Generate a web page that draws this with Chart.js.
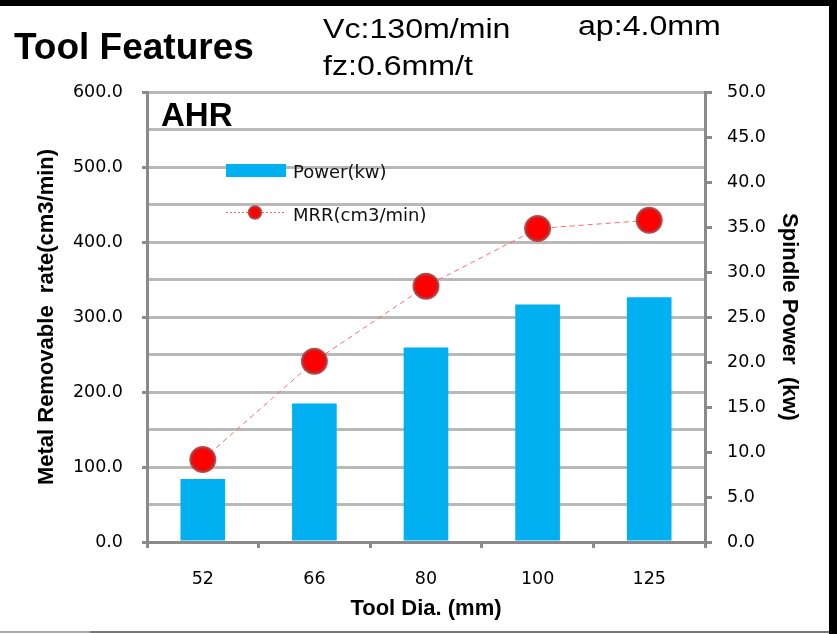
<!DOCTYPE html>
<html>
<head>
<meta charset="utf-8">
<script src="https://cdn.jsdelivr.net/npm/chart.js@4.4.1/dist/chart.umd.min.js"></script>
<style>
  html, body { margin: 0; padding: 0; background: #fff; }
  #wrap { position: relative; width: 837px; height: 634px; overflow: hidden; background: #fff; }
  #chart { position: absolute; left: 0; top: 0; }
  .txt { position: absolute; white-space: nowrap; line-height: 1; color: #000; font-family: "Liberation Sans", Arial, sans-serif; }
  .head { font-size: 27px; transform: scaleX(1.19); transform-origin: 0 0; }
  .bar { position: absolute; }
</style>
</head>
<body>
<div id="wrap">
  <canvas id="chart" width="837" height="634"></canvas>
  <div class="txt" style="left:14px; top:28px; font-size:37px; font-weight:bold;">Tool Features</div>
  <div class="txt head" style="left:323px; top:15.5px;">Vc:130m/min</div>
  <div class="txt head" style="left:323px; top:53px;">fz:0.6mm/t</div>
  <div class="txt head" style="left:578px; top:13px;">ap:4.0mm</div>
  <div class="txt" style="left:161px; top:98px; font-size:33px; font-weight:bold;">AHR</div>
  <div class="bar" style="left:0; top:0; width:837px; height:6px; background:#000;"></div>
  <div class="bar" style="left:829px; top:0; width:8px; height:634px; background:#000;"></div>
  <div class="bar" style="left:0; top:631px; width:90px; height:2px; background:#aaa;"></div>
  <div class="bar" style="left:90px; top:631px; width:739px; height:2px; background:#777;"></div>
</div>
<script>
// Tool diameters (mm)
const categories = ['52', '66', '80', '100', '125'];
// Spindle power per diameter (kW) - bars, right axis
const powerKw = [7.0, 15.4, 21.6, 26.4, 27.2];
// Metal removal rate per diameter (cm3/min) - line, left axis
const mrr = [110, 241, 341, 418, 429];

const tickFont = { family: 'DejaVu Sans', size: 17.5 };
const titleFont = { family: 'Liberation Sans', size: 22, weight: 'bold' };
const axisGray = '#8a8a8a';

// Legend drawn inside the plot area, using each dataset's own styling
const insideLegend = {
  id: 'insideLegend',
  afterDraw(chart) {
    const ctx = chart.ctx;
    const lineDs = chart.data.datasets[0];
    const barDs = chart.data.datasets[1];
    ctx.save();
    ctx.font = '18px "DejaVu Sans"';
    ctx.textBaseline = 'alphabetic';
    ctx.textAlign = 'left';

    // bar entry
    ctx.fillStyle = barDs.backgroundColor;
    ctx.fillRect(226, 164, 60, 13);
    ctx.fillStyle = '#111';
    ctx.fillText(barDs.label, 293, 178);

    // line entry
    ctx.strokeStyle = lineDs.borderColor;
    ctx.lineWidth = 1;
    ctx.setLineDash([2, 2]);
    ctx.beginPath();
    ctx.moveTo(226, 212.5);
    ctx.lineTo(284, 212.5);
    ctx.stroke();
    ctx.setLineDash([]);
    ctx.beginPath();
    ctx.arc(255, 212.5, 6, 0, Math.PI * 2);
    ctx.fillStyle = lineDs.pointBackgroundColor;
    ctx.fill();
    ctx.lineWidth = 2.5;
    ctx.strokeStyle = lineDs.pointBorderColor;
    ctx.stroke();
    ctx.fillStyle = '#111';
    ctx.fillText(lineDs.label, 293, 221);
    ctx.restore();
  }
};

new Chart(document.getElementById('chart'), {
  data: {
    labels: categories,
    datasets: [
      {
        type: 'line',
        label: 'MRR(cm3/min)',
        data: mrr,
        yAxisID: 'yL',
        order: 0,
        borderColor: '#ff6a6a',
        borderWidth: 1,
        borderDash: [5, 4],
        tension: 0,
        fill: false,
        pointRadius: 12,
        pointHoverRadius: 12,
        pointBackgroundColor: '#ff0000',
        pointBorderColor: 'rgba(180,45,45,0.85)',
        pointBorderWidth: 3
      },
      {
        type: 'bar',
        label: 'Power(kw)',
        data: powerKw,
        yAxisID: 'yR',
        order: 1,
        backgroundColor: '#00b0f0',
        barPercentage: 0.4,
        categoryPercentage: 1.0
      }
    ]
  },
  options: {
    responsive: false,
    animation: false,
    events: [],
    layout: { padding: { top: 92, left: 0, right: 0, bottom: 0 } },
    plugins: { legend: { display: false }, tooltip: { enabled: false } },
    scales: {
      x: {
        grid: { offset: true, drawOnChartArea: false, color: axisGray, lineWidth: 3, tickLength: 6 },
        border: { color: axisGray, width: 3 },
        ticks: { font: tickFont, color: '#000', padding: 21 },
        title: { display: true, text: 'Tool Dia. (mm)', font: titleFont, color: '#000', padding: { top: 0, bottom: 12 } },
        afterFit(s) { s.height = 92; }
      },
      yL: {
        position: 'left',
        min: 0,
        max: 600,
        ticks: {
          stepSize: 50,
          autoSkip: false,
          font: tickFont,
          color: '#000',
          padding: 19,
          callback: v => (v % 100 === 0 ? v.toFixed(1) : '')
        },
        grid: {
          color: '#b9b9b9',
          lineWidth: 3,
          tickLength: 5,
          tickWidth: 3,
          tickColor: c => (c.tick && c.tick.value % 100 === 0 ? axisGray : 'rgba(0,0,0,0)')
        },
        border: { color: axisGray, width: 3 },
        title: { display: true, text: 'Metal Removable  rate(cm3/min)', font: titleFont, color: '#000', padding: { top: 34 } },
        afterFit(s) { s.width = 147; }
      },
      yR: {
        position: 'right',
        min: 0,
        max: 50,
        ticks: {
          stepSize: 5,
          autoSkip: false,
          font: tickFont,
          color: '#000',
          padding: 15,
          callback: v => v.toFixed(1)
        },
        grid: { drawOnChartArea: false, color: axisGray, lineWidth: 3, tickLength: 7 },
        border: { color: axisGray, width: 3 },
        title: { display: true, text: 'Spindle Power  (kw)', font: titleFont, color: '#000', padding: { top: 34.5 } },
        afterFit(s) { s.width = 132; }
      }
    }
  },
  plugins: [insideLegend]
});
</script>
</body>
</html>
